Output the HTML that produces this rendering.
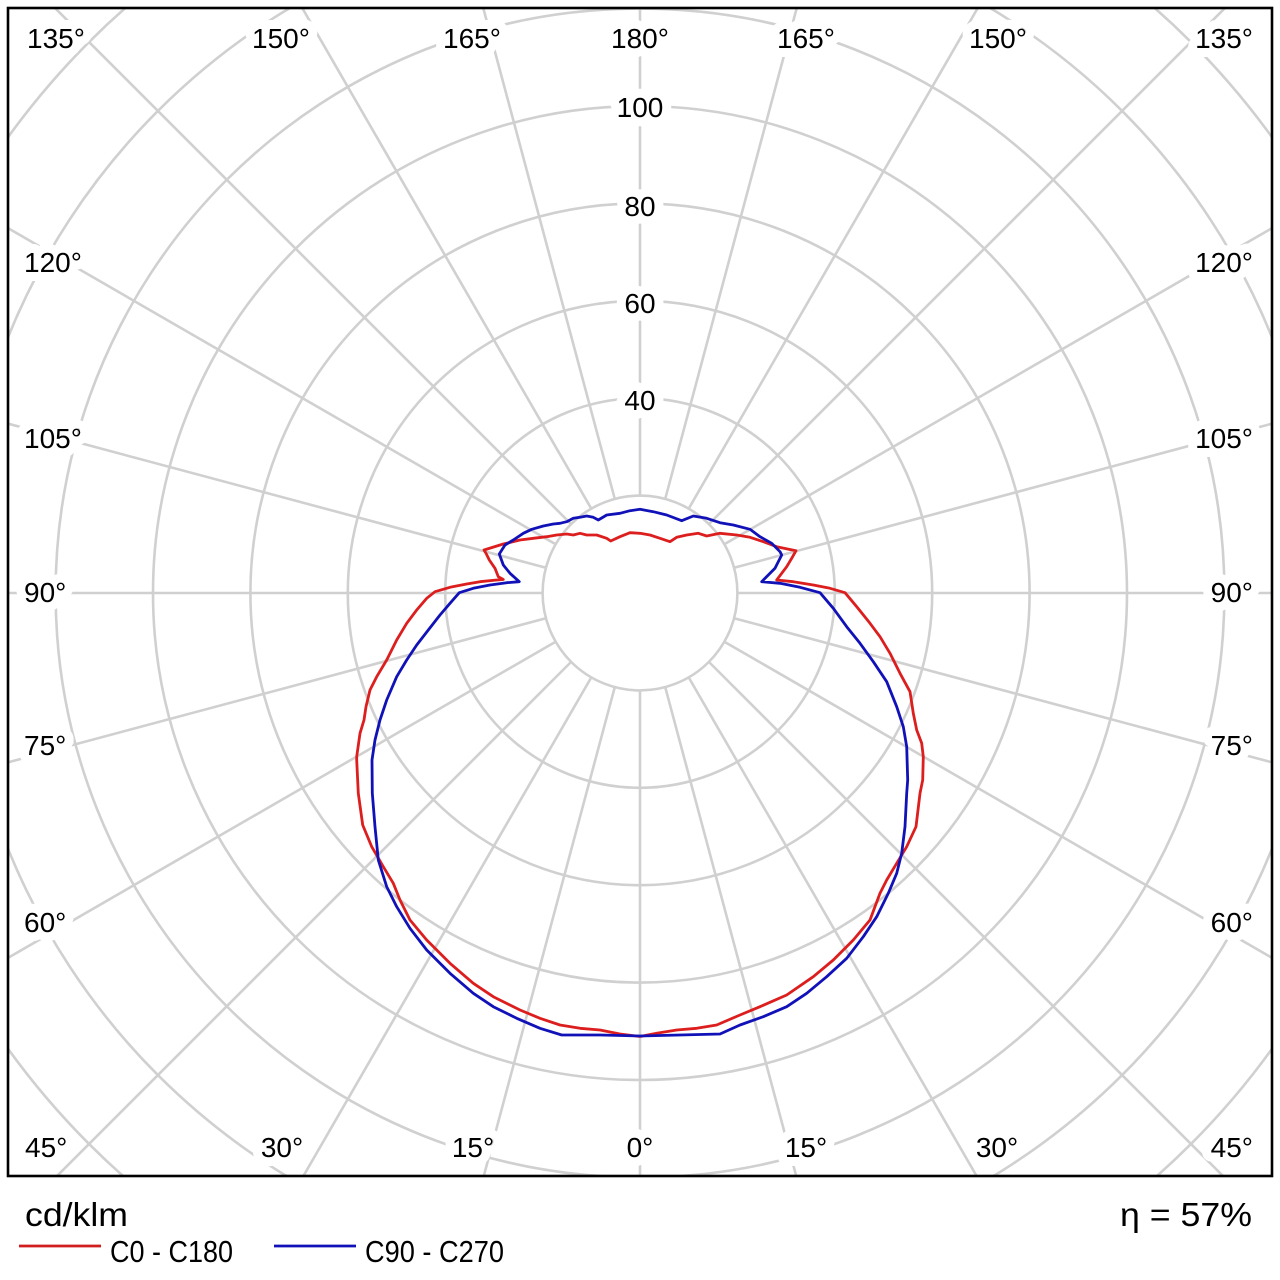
<!DOCTYPE html>
<html><head><meta charset="utf-8"><style>
html,body{margin:0;padding:0;background:#fff;width:1280px;height:1280px;overflow:hidden;}
svg{display:block;}
text{font-family:"Liberation Sans",Arial,sans-serif;fill:#000;}
.lbl{font-size:28px;stroke:#fff;stroke-width:18px;paint-order:stroke;stroke-linejoin:round;}
</style></head><body>
<svg width="1280" height="1280" viewBox="0 0 1280 1280" xmlns="http://www.w3.org/2000/svg">
<defs><clipPath id="fr"><rect x="8" y="8" width="1264" height="1168"/></clipPath></defs>
<rect x="0" y="0" width="1280" height="1280" fill="#fff"/>
<g clip-path="url(#fr)" stroke="#d0d0d0" stroke-width="2.6" fill="none">
<g transform="translate(640,593)">
<circle r="97.4"/><circle r="194.8"/><circle r="292.2"/><circle r="389.6"/><circle r="487"/><circle r="584.4"/><circle r="681.8"/><circle r="779.2"/><circle r="876.6"/>
<line x1="0" y1="97.4" x2="0" y2="950" transform="rotate(0)"/>
<line x1="0" y1="97.4" x2="0" y2="950" transform="rotate(15)"/>
<line x1="0" y1="97.4" x2="0" y2="950" transform="rotate(30)"/>
<line x1="0" y1="97.4" x2="0" y2="950" transform="rotate(45)"/>
<line x1="0" y1="97.4" x2="0" y2="950" transform="rotate(60)"/>
<line x1="0" y1="97.4" x2="0" y2="950" transform="rotate(75)"/>
<line x1="0" y1="97.4" x2="0" y2="950" transform="rotate(90)"/>
<line x1="0" y1="97.4" x2="0" y2="950" transform="rotate(105)"/>
<line x1="0" y1="97.4" x2="0" y2="950" transform="rotate(120)"/>
<line x1="0" y1="97.4" x2="0" y2="950" transform="rotate(135)"/>
<line x1="0" y1="97.4" x2="0" y2="950" transform="rotate(150)"/>
<line x1="0" y1="97.4" x2="0" y2="950" transform="rotate(165)"/>
<line x1="0" y1="97.4" x2="0" y2="950" transform="rotate(180)"/>
<line x1="0" y1="97.4" x2="0" y2="950" transform="rotate(195)"/>
<line x1="0" y1="97.4" x2="0" y2="950" transform="rotate(210)"/>
<line x1="0" y1="97.4" x2="0" y2="950" transform="rotate(225)"/>
<line x1="0" y1="97.4" x2="0" y2="950" transform="rotate(240)"/>
<line x1="0" y1="97.4" x2="0" y2="950" transform="rotate(255)"/>
<line x1="0" y1="97.4" x2="0" y2="950" transform="rotate(270)"/>
<line x1="0" y1="97.4" x2="0" y2="950" transform="rotate(285)"/>
<line x1="0" y1="97.4" x2="0" y2="950" transform="rotate(300)"/>
<line x1="0" y1="97.4" x2="0" y2="950" transform="rotate(315)"/>
<line x1="0" y1="97.4" x2="0" y2="950" transform="rotate(330)"/>
<line x1="0" y1="97.4" x2="0" y2="950" transform="rotate(345)"/>
</g>
</g>

<!-- ring labels -->
<text class="lbl" x="640" y="117" text-anchor="middle">100</text>
<text class="lbl" x="640" y="216" text-anchor="middle">80</text>
<text class="lbl" x="640" y="313" text-anchor="middle">60</text>
<text class="lbl" x="640" y="410" text-anchor="middle">40</text>

<!-- top angle labels -->
<text class="lbl" x="27" y="48">135°</text>
<text class="lbl" x="281" y="48" text-anchor="middle">150°</text>
<text class="lbl" x="472" y="48" text-anchor="middle">165°</text>
<text class="lbl" x="640" y="48" text-anchor="middle">180°</text>
<text class="lbl" x="806" y="48" text-anchor="middle">165°</text>
<text class="lbl" x="998" y="48" text-anchor="middle">150°</text>
<text class="lbl" x="1253" y="48" text-anchor="end">135°</text>

<!-- left labels -->
<text class="lbl" x="24" y="272">120°</text>
<text class="lbl" x="24" y="448">105°</text>
<text class="lbl" x="24" y="602">90°</text>
<text class="lbl" x="24" y="755">75°</text>
<text class="lbl" x="24" y="932">60°</text>
<!-- right labels -->
<text class="lbl" x="1253" y="272" text-anchor="end">120°</text>
<text class="lbl" x="1253" y="448" text-anchor="end">105°</text>
<text class="lbl" x="1253" y="602" text-anchor="end">90°</text>
<text class="lbl" x="1253" y="755" text-anchor="end">75°</text>
<text class="lbl" x="1253" y="932" text-anchor="end">60°</text>

<!-- bottom labels -->
<text class="lbl" x="25" y="1157">45°</text>
<text class="lbl" x="282" y="1157" text-anchor="middle">30°</text>
<text class="lbl" x="473" y="1157" text-anchor="middle">15°</text>
<text class="lbl" x="640" y="1157" text-anchor="middle">0°</text>
<text class="lbl" x="806" y="1157" text-anchor="middle">15°</text>
<text class="lbl" x="997" y="1157" text-anchor="middle">30°</text>
<text class="lbl" x="1253" y="1157" text-anchor="end">45°</text>

<!-- curves -->
<polyline fill="none" stroke="#dc1e1e" stroke-width="2.8" stroke-linejoin="round" points="
640,1036.5 620,1034 600,1030 580,1028.3 560,1025 540,1018.3 520,1010 493.3,996.7 473.3,983.3 450,963.3 426.7,940 410,920 400,900 393.3,883.3 383.3,866.7 371.7,846.7 362.7,825 358.3,793.3 356.7,760 356.7,756.7 360,733.3 364,720 366,706.7 370,690 376.7,676.7 386.7,660 396.7,640 406.7,623.3 416.7,610 426.7,598.3 435,591.7 450,587.3 466.7,584 480,581.7 496.7,580 503.3,579.5 498.3,576.7 495,568.3 489.3,560 486,553.3 484,550 503.3,544 520,540 533.3,538.3 546.7,536.7 556.7,535 566.7,534 573.3,535 580,533.3 586.7,535 596.7,535 606.7,538.3 610.7,541 620,536.7 630,532.7 640,533.3
650,535 660,538.3 670,541.7 676.7,537.3 686.7,535 698.3,533.3 706.7,536 720,533.3 736.7,535 750,537.3 763.3,541.7 776.7,546.7 796,550.7 791.7,558.3 786.7,566.7 781.7,573.3 776.7,580 793.3,581.7 813.3,585 830,588.3 845,592.7 856.7,606.7 870,623.3 880,636.7 890,653.3 900,673.3 910,691.7 913.3,713.3 916.7,730 921.7,743.3 923.3,756.7 922.7,780 920,793.3 916,826.7 906.7,846.7 896.7,863.3 886.7,880 880,893.3 870,920 853.3,940 833.3,960 813.3,976.7 786.7,995 760,1006.7 740,1015 716.7,1025 696.7,1028.3 676.7,1030 656.7,1033.3 640,1036.5"/>
<polyline fill="none" stroke="#1111b8" stroke-width="2.8" stroke-linejoin="round" points="
640,1036 600,1035 561.7,1035 540,1028.3 516.7,1018.3 493.3,1006.7 473.3,993.3 450,973.3 426.7,950 410,928.3 396.7,906.7 386.7,886.7 378.3,860 375,826.7 372.3,793.3 372,760 375,740 380,720 386.7,700 396.7,676.7 406.7,660 416.7,645 428.3,630 440,615 450,603.3 459.3,592.7 473.3,588.3 490,585 506.7,582.7 519.3,581.7 510,573.3 503.3,565 499.3,554 505,545 513.3,540 523.3,533.3 531.7,529.3 543.3,526 553.3,524 560,523.3 566.7,521.7 573.3,518.3 580,517.3 586.7,516 593.3,517.3 598.3,520 606.7,515 620,513.3 630,510.7 640,509.3
653.3,511.7 666.7,515 681.7,520.7 693.3,516 706.7,518.3 720,522.7 733.3,525 750,529.3 760,536.7 771.7,543.3 780,551.7 781.7,555 775,568.3 768.3,575 761.7,581.7 780,583.3 800,587.3 820,592.7 833.3,608.3 846.7,626.7 860,643.3 873.3,661.7 886.7,681.7 896.7,706.7 903.3,726.7 906.7,746.7 907.7,780 906.7,793.3 905,826.7 901.7,853.3 896.7,873.3 888.3,893.3 876.7,916.7 863.3,936.7 846.7,958.3 826.7,976.7 806.7,993.3 786.7,1006.7 763.3,1016.7 740,1025 720,1034 680,1035 640,1036"/>

<!-- frame -->
<rect x="8" y="8" width="1264" height="1168" fill="none" stroke="#000" stroke-width="2.6"/>

<!-- legend -->
<text x="25" y="1226" font-size="33" textLength="103" lengthAdjust="spacingAndGlyphs">cd/klm</text>
<line x1="19" y1="1246" x2="101" y2="1246" stroke="#d01e1e" stroke-width="2.8"/>
<text x="110" y="1262" font-size="31" textLength="123" lengthAdjust="spacingAndGlyphs">C0 - C180</text>
<line x1="274" y1="1246" x2="356" y2="1246" stroke="#1111b8" stroke-width="2.8"/>
<text x="365" y="1262" font-size="31" textLength="139" lengthAdjust="spacingAndGlyphs">C90 - C270</text>
<text x="1120" y="1226" font-size="33" textLength="132" lengthAdjust="spacingAndGlyphs">η = 57%</text>
</svg>
</body></html>
